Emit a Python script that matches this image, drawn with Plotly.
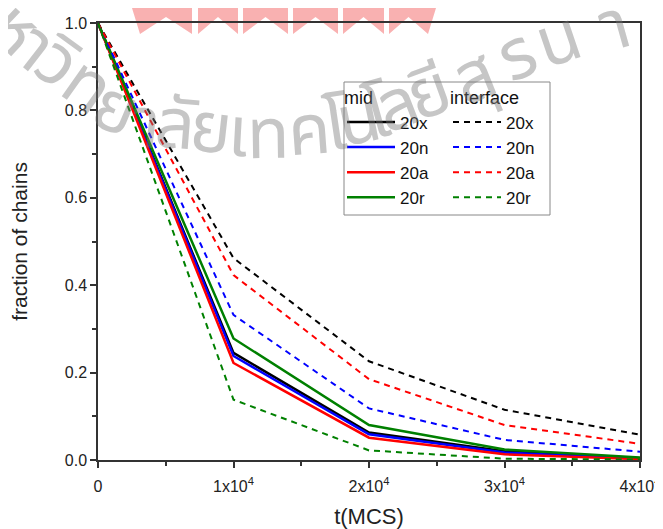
import math
import plotly.graph_objects as go

# ---------------- data ----------------
t = [0, 10000, 20000, 30000, 40000]
series_names = ["20x", "20n", "20a", "20r"]
colors = ["#000000", "#0000ff", "#ff0000", "#008000"]
mid_20x = [1.0, 0.245, 0.063, 0.020, 0.004]
mid_20n = [1.0, 0.238, 0.059, 0.017, 0.003]
mid_20a = [1.0, 0.222, 0.051, 0.013, 0.002]
mid_20r = [1.0, 0.278, 0.080, 0.024, 0.006]
int_20x = [1.0, 0.462, 0.226, 0.115, 0.058]
int_20n = [1.0, 0.332, 0.118, 0.046, 0.019]
int_20a = [1.0, 0.423, 0.185, 0.080, 0.037]
int_20r = [1.0, 0.138, 0.022, 0.003, 0.001]
x_tickvals = [0, 10000, 20000, 30000, 40000]
x_ticktext = ["0", "1x10<sup>4</sup>", "2x10<sup>4</sup>", "3x10<sup>4</sup>", "4x10<sup>4</sup>"]
y_tickvals = [0.0, 0.2, 0.4, 0.6, 0.8, 1.0]
y_ticktext = ["0.0", "0.2", "0.4", "0.6", "0.8", "1.0"]

mid = [mid_20x, mid_20n, mid_20a, mid_20r]
inter = [int_20x, int_20n, int_20a, int_20r]

# page has an 8px body margin, so the figure is drawn at (8, 8)
OFF = 8
W, H = 663 - OFF, 529 - OFF
PL, PR, PT, PB = 98, 640, 23, 460          # plot-area edges in screenshot pixels
ML, MT = PL - OFF, PT - OFF
MR, MB = W - (PR - OFF), H - (PB - OFF)
PW, PH = PR - PL, PB - PT


def px(x):
    return (x - PL) / PW


def py(y):
    return (PB - y) / PH


FONT = "Liberation Sans, Arial, sans-serif"
fig = go.Figure()

for i, name in enumerate(series_names):
    fig.add_trace(go.Scatter(x=t, y=mid[i], mode="lines", name=name,
                             line=dict(color=colors[i], width=2.5),
                             legend="legend", legendgroup="m" + name))
for i, name in enumerate(series_names):
    fig.add_trace(go.Scatter(x=t, y=inter[i], mode="lines", name=name,
                             line=dict(color=colors[i], width=2, dash="6px,5px"),
                             legend="legend2", legendgroup="i" + name))

# ---- watermark (decorative background stamp) ----
shapes = []
strips = [(140, 192, -12, 0), (198, 238, 0, 0), (243, 288, 0, 0), (293, 338, 0, 0),
          (343, 384, 0, 0), (389, 428, 0, 12)]
for (a, b, sa, sb) in strips:
    m = (a + b) / 2
    path = (f"M {px(a + sa)},{py(-5)} L {px(b + sb)},{py(-5)} L {px(b)},{py(34)} "
            f"L {px(m)},{py(17)} L {px(a)},{py(34)} Z")
    shapes.append(dict(type="path", xref="paper", yref="paper", path=path,
                       fillcolor="rgba(240,70,70,0.42)", line=dict(width=0),
                       layer="below"))

wm_glyphs = ["ห", "า", "วิ", "ท", "ย", "า", "ลั", "ย", "เ", "ท", "ค", "โ", "น",
             "โ", "ล", "ยี", "สุ", "ร", "น", "า"]
wm_pos = [(18, 25), (36, 42), (58, 56), (88, 80), (113, 95), (138, 101), (168, 101),
          (203, 106), (230, 108), (258, 109), (298, 107), (325, 104), (345, 100),
          (364, 96), (381, 90), (413, 77), (458, 62), (500, 42), (543, 24), (600, 8)]
K = 20  # offset of glyph body above the text-box centre
annotations = []
n = len(wm_pos)
for i, (c, (gx, gy)) in enumerate(zip(wm_glyphs, wm_pos)):
    a = wm_pos[max(0, i - 1)]
    b = wm_pos[min(n - 1, i + 1)]
    th = math.degrees(math.atan2(b[1] - a[1], b[0] - a[0]))
    r = math.radians(th)
    gx2 = gx + 10
    gy2 = gy + 8 - 18 * min(1.0, abs(th) / 40.0)
    bx = gx2 - K * math.sin(r)
    by = gy2 + K * math.cos(r)
    annotations.append(dict(text=c, x=px(bx), y=py(by), xref="paper", yref="paper",
                            xanchor="center", yanchor="middle",
                            showarrow=False, textangle=th,
                            font=dict(size=70, color="rgba(120,120,120,0.42)",
                                      family="Noto Sans Thai, Noto Sans, DejaVu Sans, sans-serif")))

# legend box
shapes.append(dict(type="rect", xref="paper", yref="paper",
                   x0=px(344), x1=px(550), y0=py(215), y1=py(82),
                   line=dict(color="#888888", width=1), fillcolor="rgba(0,0,0,0)"))

axis_common = dict(showline=True, linecolor="#333333", linewidth=1.5, mirror=True,
                   ticks="outside", ticklen=6, tickwidth=1.5, tickcolor="#333333",
                   showgrid=False, zeroline=False, automargin=False,
                   tickfont=dict(family=FONT, size=16, color="#222222"))

fig.update_layout(
    width=W, height=H,
    margin=dict(l=ML, r=MR, t=MT, b=MB, pad=0),
    paper_bgcolor="white", plot_bgcolor="rgba(0,0,0,0)",
    font=dict(family=FONT, color="#222222"),
    xaxis=dict(range=[0, 40000], tickvals=x_tickvals, ticktext=x_ticktext,
               ticklabelstandoff=5,
               minor=dict(ticks="outside", ticklen=4, tickwidth=1.5, tickcolor="#333333", dtick=5000, tick0=0),
               title=dict(text="t(MCS)", font=dict(family=FONT, size=22, color="#222222"), standoff=22),
               **axis_common),
    yaxis=dict(range=[0, 1.0], tickvals=y_tickvals, ticktext=y_ticktext,
               minor=dict(ticks="outside", ticklen=4, tickwidth=1.5, tickcolor="#333333", dtick=0.1, tick0=0),
               title=dict(text="fraction of chains", font=dict(family=FONT, size=21, color="#222222"), standoff=36),
               **axis_common),
    legend=dict(x=px(342), y=py(81), xanchor="left", yanchor="top",
                bgcolor="rgba(0,0,0,0)", borderwidth=0, itemwidth=48,
                tracegroupgap=0, itemclick=False,
                title=dict(text="mid", font=dict(family=FONT, size=18, color="#111111")),
                font=dict(family=FONT, size=17, color="#111111")),
    legend2=dict(x=px(448), y=py(81), xanchor="left", yanchor="top",
                 bgcolor="rgba(0,0,0,0)", borderwidth=0, itemwidth=48,
                 tracegroupgap=0, itemclick=False,
                 title=dict(text="interface", font=dict(family=FONT, size=18, color="#111111")),
                 font=dict(family=FONT, size=17, color="#111111")),
    shapes=shapes,
    annotations=annotations,
)

fig.write_html("out.html")
